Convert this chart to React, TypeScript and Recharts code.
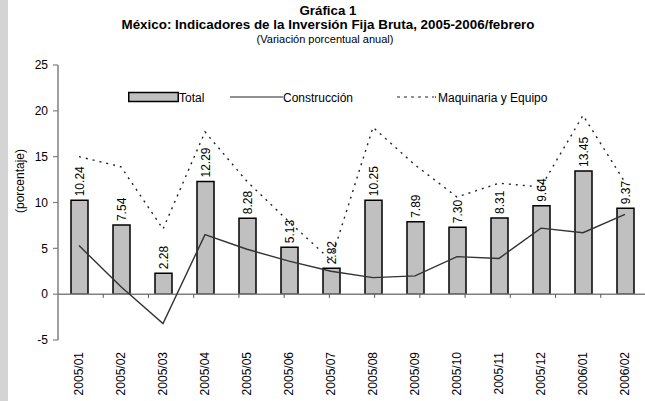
import React from "react";
import {
  Bar,
  ComposedChart,
  LabelList,
  Line,
  ReferenceLine,
  XAxis,
  YAxis,
} from "recharts";

const categories = [
  "2005/01", "2005/02", "2005/03", "2005/04", "2005/05", "2005/06", "2005/07",
  "2005/08", "2005/09", "2005/10", "2005/11", "2005/12", "2006/01", "2006/02",
];
const totalValues = [10.24, 7.54, 2.28, 12.29, 8.28, 5.13, 2.82, 10.25, 7.89, 7.3, 8.31, 9.64, 13.45, 9.37];
const construccionValues = [5.3, 0.8, -3.2, 6.5, 4.9, 3.6, 2.5, 1.8, 2.0, 4.1, 3.9, 7.2, 6.7, 8.7];
const maquinariaValues = [15.0, 13.9, 7.1, 17.7, 12.3, 7.9, 3.7, 18.2, 14.1, 10.6, 12.1, 11.7, 19.5, 12.2];
const yTicks = [-5, 0, 5, 10, 15, 20, 25];
const seriesNames = ["Total", "Construcción", "Maquinaria y Equipo"];

const data = categories.map((mes, i) => ({
  mes,
  total: totalValues[i],
  construccion: construccionValues[i],
  maquinaria: maquinariaValues[i],
}));

// category boundaries, for the little ticks hanging under the zero line
const boundaries = categories.map((_, i) => i + 1);

const FONT = "'Liberation Sans', Arial, sans-serif";

function BarLabel(props: any) {
  const { x, y, width, value } = props;
  const cx = x + width / 2;
  const ty = y - 4;
  return (
    <text
      x={cx}
      y={ty}
      dy="0.36em"
      transform={`rotate(-90 ${cx} ${ty})`}
      textAnchor="start"
      fontSize={12}
      fontFamily={FONT}
      fill="#000"
    >
      {Number(value).toFixed(2)}
    </text>
  );
}

function MonthTick(props: any) {
  const { x, y, payload } = props;
  return (
    <text
      x={x}
      y={y}
      dy="0.36em"
      transform={`rotate(-90 ${x} ${y})`}
      textAnchor="end"
      fontSize={12}
      fontFamily={FONT}
      fill="#000"
    >
      {payload.value}
    </text>
  );
}

// legend drawn by hand; a Recharts <Legend> would eat into the plot height
function ChartLegend() {
  return (
    <svg width={470} height={16} style={{ display: "block", overflow: "visible" }}>
      <rect x={0.75} y={3.5} width={49.5} height={9} fill="#c0c0c0" stroke="#000" strokeWidth={1.5} />
      <text x={51} y={12.5} fontSize={12} fontFamily={FONT} fill="#000">{seriesNames[0]}</text>
      <line x1={102} y1={8} x2={155} y2={8} stroke="#222" strokeWidth={1.2} />
      <text x={155} y={12.5} fontSize={12} fontFamily={FONT} fill="#000">{seriesNames[1]}</text>
      <line x1={269} y1={8} x2={306} y2={8} stroke="#222" strokeWidth={1.2} strokeDasharray="3 4" />
      <circle cx={307.5} cy={8} r={0.7} fill="#222" />
      <text x={310} y={12.5} fontSize={12} fontFamily={FONT} fill="#000">{seriesNames[2]}</text>
    </svg>
  );
}

export default function App() {
  return (
    <div
      style={{
        position: "absolute",
        left: 0,
        top: 0,
        width: 645,
        height: 401,
        overflow: "hidden",
        background: "#fff",
        fontFamily: FONT,
      }}
    >
      <div style={{ position: "absolute", left: 0, top: 0, width: 8, height: 401, background: "#d4d4d4" }} />
      <div style={{ position: "absolute", left: 8, width: 640, top: 4, textAlign: "center", color: "#000" }}>
        <div style={{ fontSize: 13.3, fontWeight: "bold", lineHeight: "14px" }}>Gráfica 1</div>
        <div style={{ fontSize: 13.4, fontWeight: "bold", lineHeight: "14px" }}>
          México: Indicadores de la Inversión Fija Bruta, 2005-2006/febrero
        </div>
        <div style={{ fontSize: 11, lineHeight: "14px", marginLeft: -6 }}>(Variación porcentual anual)</div>
      </div>
      <div
        style={{
          position: "absolute",
          left: 20,
          top: 181,
          fontSize: 12,
          whiteSpace: "nowrap",
          transform: "translate(-50%, -50%) rotate(-90deg)",
          color: "#000",
        }}
      >
        (porcentaje)
      </div>
      <div style={{ position: "absolute", left: 0, top: 0 }}>
        <ComposedChart width={646} height={401} data={data} margin={{ top: 65, right: 0, bottom: 0, left: 0 }}>
          <XAxis
            xAxisId="cat"
            dataKey="mes"
            axisLine={false}
            tickLine={false}
            tickSize={0}
            tickMargin={12}
            interval={0}
            height={61}
            tick={<MonthTick />}
          />
          <XAxis xAxisId="num" type="number" domain={[0, 14]} hide />
          <YAxis
            domain={[-5, 25]}
            ticks={yTicks}
            width={58}
            axisLine={{ stroke: "#808080", strokeWidth: 1.5 }}
            tickLine={{ stroke: "#808080", strokeWidth: 1.2 }}
            tickSize={5}
            tickMargin={5}
            tick={{ fontSize: 12, fill: "#000", fontFamily: FONT }}
            allowDataOverflow
          />
          <Bar
            xAxisId="cat"
            dataKey="total"
            name={seriesNames[0]}
            fill="#c0c0c0"
            stroke="#000"
            strokeWidth={1.5}
            barSize={17}
            isAnimationActive={false}
          >
            <LabelList dataKey="total" content={<BarLabel />} />
          </Bar>
          <ReferenceLine xAxisId="cat" y={0} stroke="#808080" strokeWidth={1.5} />
          {boundaries.map((b) => (
            <ReferenceLine
              key={b}
              xAxisId="num"
              segment={[{ x: b, y: 0 }, { x: b, y: -0.4 }]}
              stroke="#555"
              strokeWidth={1}
              ifOverflow="visible"
            />
          ))}
          <Line
            xAxisId="cat"
            type="linear"
            dataKey="construccion"
            name={seriesNames[1]}
            stroke="#333"
            strokeWidth={1.4}
            dot={false}
            isAnimationActive={false}
          />
          <Line
            xAxisId="cat"
            type="linear"
            dataKey="maquinaria"
            name={seriesNames[2]}
            stroke="#222"
            strokeWidth={1.4}
            strokeDasharray="2 5"
            dot={false}
            isAnimationActive={false}
          />
        </ComposedChart>
      </div>
      <div style={{ position: "absolute", left: 128, top: 89 }}>
        <ChartLegend />
      </div>
    </div>
  );
}
